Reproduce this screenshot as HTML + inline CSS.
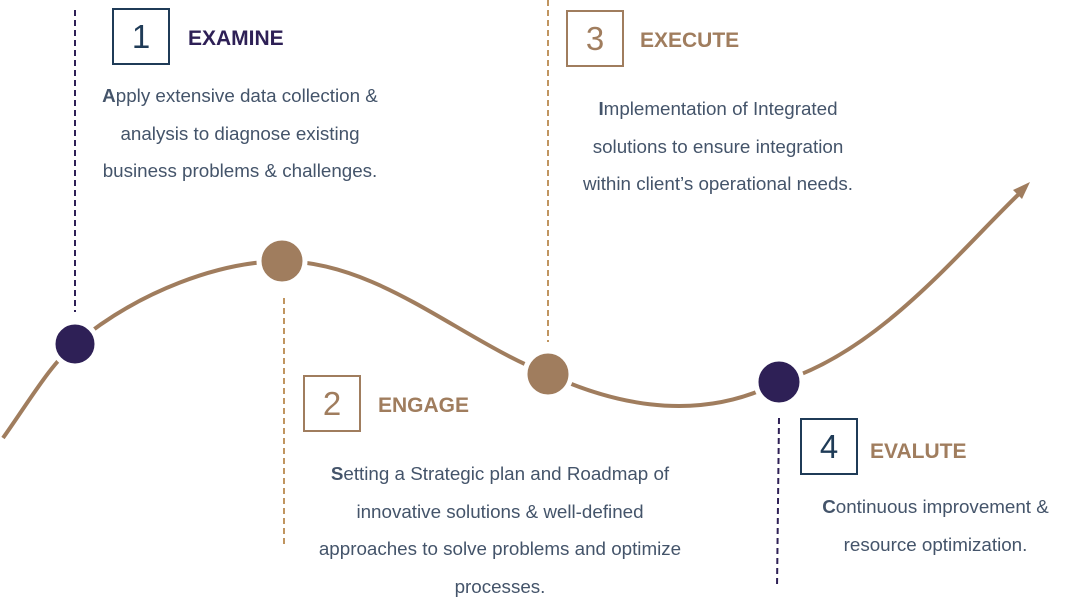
<!DOCTYPE html>
<html><head><style>
body{margin:0;width:1081px;height:611px;background:#fff;position:relative;overflow:hidden;font-family:"Liberation Sans",sans-serif;}
.box{position:absolute;width:54px;height:53px;border:2px solid #1f3b57;color:#1f3b57;font-size:33px;text-align:center;line-height:53px;}
.box.b{border-color:#a07d5e;color:#a07d5e;}
.t{position:absolute;font-weight:bold;font-size:21px;}
.p{position:absolute;color:#44546a;font-size:18.8px;line-height:37.5px;text-align:center;white-space:nowrap;}
.p b{color:#44546a}
</style></head><body>
<svg width="1081" height="611" style="position:absolute;left:0;top:0">
<g stroke-width="2" stroke-dasharray="6,4" fill="none">
<line x1="75" y1="10" x2="75" y2="312" stroke="#2e2056"/>
<line x1="284" y1="298" x2="284" y2="548" stroke="#c09560"/>
<line x1="548" y1="0" x2="548" y2="342" stroke="#c09560"/>
<line x1="779" y1="418" x2="777" y2="588" stroke="#2e2056"/>
</g>
<path d="M3,438 C30,400 50,365 75,344 C140,290 220,262 282,261 C380,262 460,340 548,374 C600,398 690,428 779,382 C880,352 960,250 1022,191" stroke="#a07d5e" stroke-width="4" fill="none"/>
<polygon points="1030,182 1013,190 1022,199" fill="#a07d5e"/>
<g stroke="#fff" stroke-width="5">
<circle cx="75" cy="344" r="22" fill="#2e2056"/>
<circle cx="282" cy="261" r="23" fill="#a07d5e"/>
<circle cx="548" cy="374" r="23" fill="#a07d5e"/>
<circle cx="779" cy="382" r="23" fill="#2e2056"/>
</g>
</svg>
<div class="box" style="left:112px;top:8px">1</div>
<div class="t" style="left:188px;top:27px;color:#2e2056">EXAMINE</div>
<div class="p" style="left:40px;top:77px;width:400px"><b>A</b>pply extensive data collection &amp;<br>analysis to diagnose existing<br>business problems &amp; challenges.</div>
<div class="box b" style="left:566px;top:10px">3</div>
<div class="t" style="left:640px;top:29px;color:#a07d5e">EXECUTE</div>
<div class="p" style="left:518px;top:90px;width:400px"><b>I</b>mplementation of Integrated<br>solutions to ensure integration<br>within client’s operational needs.</div>
<div class="box b" style="left:303px;top:375px">2</div>
<div class="t" style="left:378px;top:394px;color:#a07d5e">ENGAGE</div>
<div class="p" style="left:280px;top:455px;width:440px"><b>S</b>etting a Strategic plan and Roadmap of<br>innovative solutions &amp; well-defined<br>approaches to solve problems and optimize<br>processes.</div>
<div class="box" style="left:800px;top:418px">4</div>
<div class="t" style="left:870px;top:440px;color:#a07d5e">EVALUTE</div>
<div class="p" style="left:793px;top:488px;width:285px"><b>C</b>ontinuous improvement &amp;<br>resource optimization.</div>
</body></html>
